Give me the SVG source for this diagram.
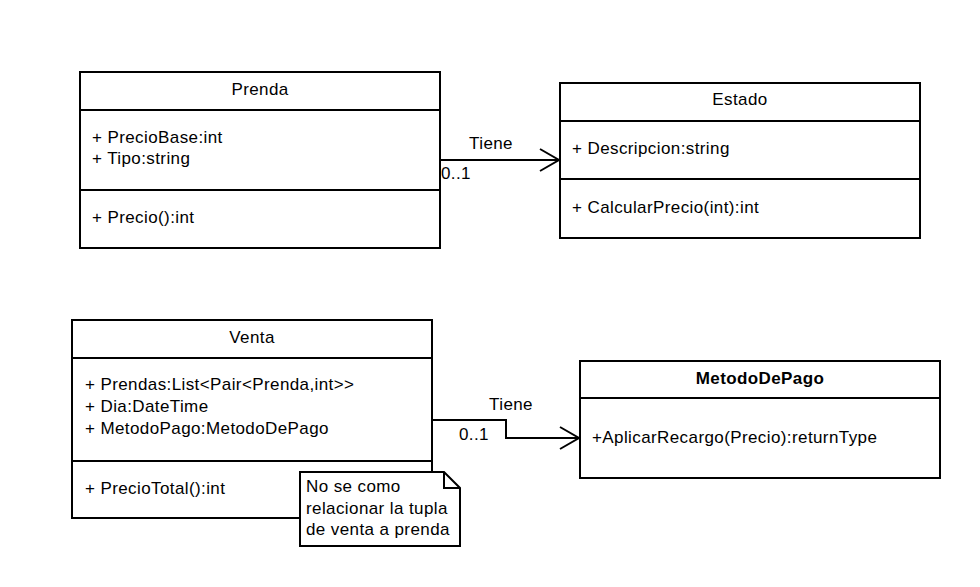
<svg xmlns="http://www.w3.org/2000/svg" width="980" height="587" viewBox="0 0 980 587">
<style>
.box{fill:#fff;stroke:#000;stroke-width:2}
.ln{stroke:#000;stroke-width:2;fill:none}
text{font-family:"Liberation Sans",Arial,sans-serif;font-size:17px;letter-spacing:0.4px;fill:#000}
.c{text-anchor:middle}
.b{font-weight:bold}
</style>
<defs>
<marker id="open" markerWidth="24" markerHeight="26" refX="20" refY="12" orient="auto" markerUnits="userSpaceOnUse">
<path d="M1,1 L20,12 L1,23" fill="none" stroke="#000" stroke-width="2"/>
</marker>
</defs>
<rect width="980" height="587" fill="#fff"/>
<g id="connectors">
<path class="ln" d="M440,160 L559,160" marker-end="url(#open)"/>
<text x="491" y="149" class="c">Tiene</text>
<text x="441" y="179">0..1</text>
<path class="ln" d="M432,420 L506,420 L506,438 L579,438" marker-end="url(#open)"/>
<text x="511" y="410" class="c">Tiene</text>
<text x="459" y="440">0..1</text>
</g>
<g id="prenda">
<rect class="box" x="80" y="72" width="360" height="176"/>
<line class="ln" x1="80" y1="110" x2="440" y2="110"/>
<line class="ln" x1="80" y1="190" x2="440" y2="190"/>
<text x="260" y="95" class="c">Prenda</text>
<text x="92" y="143">+ PrecioBase:int</text>
<text x="92" y="164">+ Tipo:string</text>
<text x="92" y="223">+ Precio():int</text>
</g>
<g id="estado">
<rect class="box" x="560" y="83" width="360" height="155"/>
<line class="ln" x1="560" y1="121" x2="920" y2="121"/>
<line class="ln" x1="560" y1="179" x2="920" y2="179"/>
<text x="740" y="105" class="c">Estado</text>
<text x="572" y="154">+ Descripcion:string</text>
<text x="572" y="213">+ CalcularPrecio(int):int</text>
</g>
<g id="venta">
<rect class="box" x="72" y="320" width="360" height="198"/>
<line class="ln" x1="72" y1="358" x2="432" y2="358"/>
<line class="ln" x1="72" y1="461" x2="432" y2="461"/>
<text x="252" y="343" class="c">Venta</text>
<text x="85" y="390">+ Prendas:List&lt;Pair&lt;Prenda,int&gt;&gt;</text>
<text x="85" y="412">+ Dia:DateTime</text>
<text x="85" y="434">+ MetodoPago:MetodoDePago</text>
<text x="85" y="494">+ PrecioTotal():int</text>
</g>
<g id="metodo">
<rect class="box" x="580" y="361" width="360" height="117"/>
<line class="ln" x1="580" y1="398" x2="940" y2="398"/>
<text x="760" y="384" class="c b">MetodoDePago</text>
<text x="592" y="443">+AplicarRecargo(Precio):returnType</text>
</g>
<g id="note">
<path class="box" d="M300,472 L444,472 L460,488 L460,546 L300,546 Z"/>
<path class="ln" d="M444,472 L444,488 L460,488"/>
<text x="306" y="492">No se como</text>
<text x="306" y="514">relacionar la tupla</text>
<text x="306" y="535">de venta a prenda</text>
</g>
</svg>
